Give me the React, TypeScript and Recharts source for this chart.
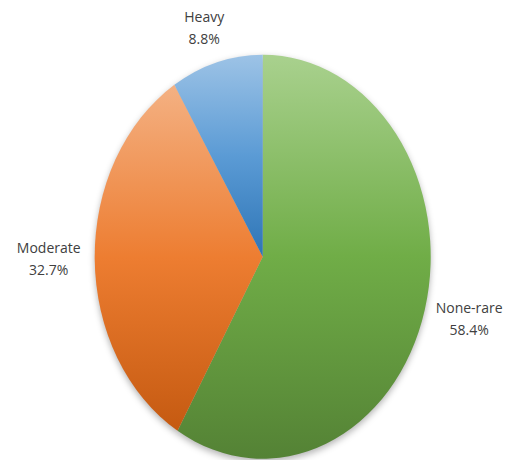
import { PieChart, Pie, Cell } from 'recharts';

const categories = ['None-rare', 'Moderate', 'Heavy'];
const shares = [58.4, 32.7, 8.8];
const topColors = ['#a9d18e', '#f4b183', '#9dc3e6'];
const midColors = ['#70ad47', '#ed7d31', '#5b9bd5'];
const bottomColors = ['#548235', '#c55a11', '#2e75b6'];

const data = categories.map((name, i) => ({ name, value: shares[i] }));

const CX = 262.7;
const CY = 256.7;
const RX = 168;
const RY = 202;
const K = RY / RX;
const RADIAN = Math.PI / 180;

const css = `
body { margin: 0; }
.main-pie .recharts-pie-sector {
  transform-origin: ${CX}px ${CY}px;
  transform: scale(1, ${K});
}
.shadow-pie .recharts-pie-sector {
  transform-origin: ${CX}px ${CY}px;
  transform: translate(0px, 3px) scale(1, ${K});
  filter: blur(3px);
}
`;

function renderLabel(props: any) {
    const { cx, cy, midAngle, outerRadius, index } = props;
    const cos = Math.cos(-midAngle * RADIAN);
    const sin = Math.sin(-midAngle * RADIAN);
    // labels sit a little further out sideways than above/below
    const x = cx + outerRadius * cos + 46 * cos;
    const y = cy + outerRadius * K * sin + 36 * sin;
    return (
        <text
            x={x}
            y={y}
            textAnchor="middle"
            fill="#404040"
            style={{ fontFamily: '"Open Sans", sans-serif', fontSize: 14 }}
        >
            <tspan x={x} y={y - 6}>{categories[index]}</tspan>
            <tspan x={x} y={y + 16}>{shares[index].toFixed(1)}%</tspan>
        </text>
    );
}

export default function App() {
    return (
        <div style={{ width: 511, height: 460, background: '#fff' }}>
            <style>{css}</style>
            <PieChart width={511} height={460} margin={{ top: 0, right: 0, bottom: 0, left: 0 }}>
                <defs>
                    {categories.map((c, i) => (
                        <linearGradient key={c} id={`grad${i}`} x1="0" y1="0" x2="0" y2="1">
                            <stop offset="0%" stopColor={topColors[i]} />
                            <stop offset="50%" stopColor={midColors[i]} />
                            <stop offset="100%" stopColor={bottomColors[i]} />
                        </linearGradient>
                    ))}
                </defs>
                <Pie
                    className="shadow-pie"
                    data={data}
                    dataKey="value"
                    nameKey="name"
                    cx={CX}
                    cy={CY}
                    outerRadius={RX}
                    startAngle={90}
                    endAngle={-270}
                    stroke="none"
                    fill="#000"
                    fillOpacity={0.3}
                    label={false}
                    labelLine={false}
                    isAnimationActive={false}
                />
                <Pie
                    className="main-pie"
                    data={data}
                    dataKey="value"
                    nameKey="name"
                    cx={CX}
                    cy={CY}
                    outerRadius={RX}
                    startAngle={90}
                    endAngle={-270}
                    stroke="none"
                    label={renderLabel}
                    labelLine={false}
                    isAnimationActive={false}
                >
                    {data.map((d, i) => (
                        <Cell key={d.name} fill={`url(#grad${i})`} />
                    ))}
                </Pie>
            </PieChart>
        </div>
    );
}
